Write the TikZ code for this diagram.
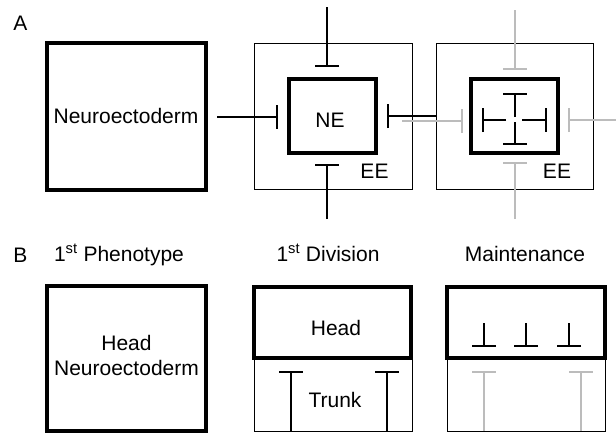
\documentclass[tikz,border=0pt]{standalone}
\usepackage{fontspec}
\setmainfont{Liberation Sans}
\usetikzlibrary{arrows.meta}
\definecolor{lgrey}{RGB}{188,188,188}
\begin{document}
\begin{tikzpicture}[x=1pt,y=-1pt,
  thickbox/.style={draw, line width=3.2pt, inner sep=0pt, outer sep=0pt},
  thinbox/.style={draw, line width=1pt, inner sep=0pt, outer sep=0pt},
  tee/.style={line width=1.3pt, -{Bar[width=24pt,line width=1.8pt]}},
  greytee/.style={tee, draw=lgrey},
  lbl/.style={font=\fontsize{21}{25}\selectfont, inner sep=0pt, anchor=base},
]
\useasboundingbox (0,0) rectangle (616,432);

% ---------------- Row A ----------------
\node[lbl] (labA) at (20.5,30) {A};

\node[thickbox, minimum width=159pt, minimum height=147pt] (neA) at (126.5,116.5) {};
\node[lbl] (neAtxt) at (126,123) {Neuroectoderm};

\node[thinbox, minimum width=158pt, minimum height=146pt] (ee1) at (333,116) {};
\node[thickbox, minimum width=87pt, minimum height=74pt] (ne1) at (332.5,116) {};
\node[lbl] (ne1txt) at (330,127) {NE};
\node[lbl] (ee1txt) at (374.5,178) {EE};

\node[thinbox, minimum width=157pt, minimum height=146pt] (ee2) at (514.5,116) {};
\node[thickbox, minimum width=87pt, minimum height=74pt] (ne2) at (514.5,116) {};
\node[lbl] (ee2txt) at (557,178) {EE};

% connector endpoints
\coordinate (c1s) at (217,117);  \coordinate (c1e) at (278,117);
\coordinate (c2s) at (327,7);    \coordinate (c2e) at (327,67);
\coordinate (c3s) at (327,219);  \coordinate (c3e) at (327,164);
\coordinate (c4s) at (436,116);  \coordinate (c4e) at (387,116);
\coordinate (g1s) at (402,121);  \coordinate (g1e) at (463,121);
\coordinate (g2s) at (515,10);   \coordinate (g2e) at (515,70);
\coordinate (g3s) at (515,219);  \coordinate (g3e) at (515,162);
\coordinate (g4s) at (616,120);  \coordinate (g4e) at (568,120);

\draw[tee] (c1s) -- (c1e);
\draw[tee] (c2s) -- (c2e);
\draw[tee] (c3s) -- (c3e);
\draw[tee] (c4s) -- (c4e);
\draw[greytee] (g1s) -- (g1e);
\draw[greytee] (g2s) -- (g2e);
\draw[greytee] (g3s) -- (g3e);
\draw[greytee] (g4s) -- (g4e);

% inner symbol of ne2
\coordinate (i1s) at (515,117); \coordinate (i1e) at (515,93);
\coordinate (i2s) at (515,122); \coordinate (i2e) at (515,145);
\coordinate (i3s) at (506,120); \coordinate (i3e) at (482,120);
\coordinate (i4s) at (522,120); \coordinate (i4e) at (547,120);
\draw[tee] (i1s) -- (i1e);
\draw[tee] (i2s) -- (i2e);
\draw[tee] (i3s) -- (i3e);
\draw[tee] (i4s) -- (i4e);

% ---------------- Row B ----------------
\node[lbl] (labB) at (20.5,262) {B};
\node[lbl] (h1) at (119,261) {1\textsuperscript{st} Phenotype};
\node[lbl] (h2) at (328,261) {1\textsuperscript{st} Division};
\node[lbl] (h3) at (525,261) {Maintenance};

\node[thickbox, minimum width=159pt, minimum height=145pt] (hn) at (126.5,358.5) {};
\node[font=\fontsize{21}{25}\selectfont, inner sep=0pt, align=center] (hntxt) at (126.5,355.3) {Head\\Neuroectoderm};

\node[thinbox, minimum width=158pt, minimum height=73pt] (trunk) at (333,394.5) {};
\node[thickbox, minimum width=157pt, minimum height=71pt] (head) at (332.5,322.5) {};
\node[lbl] (headtxt) at (336,335) {Head};
\node[lbl] (trunktxt) at (335,407) {Trunk};

\coordinate (t1s) at (291,431); \coordinate (t1e) at (291,371);
\coordinate (t2s) at (387,431); \coordinate (t2e) at (387,371);
\draw[tee] (t1s) -- (t1e);
\draw[tee] (t2s) -- (t2e);

\node[thinbox, minimum width=158pt, minimum height=73pt] (mlow) at (526,394.5) {};
\node[thickbox, minimum width=158pt, minimum height=71pt] (mhead) at (526,322.5) {};

\coordinate (m1s) at (484,323); \coordinate (m1e) at (484,347);
\coordinate (m2s) at (526,323); \coordinate (m2e) at (526,347);
\coordinate (m3s) at (569,323); \coordinate (m3e) at (569,347);
\draw[tee] (m1s) -- (m1e);
\draw[tee] (m2s) -- (m2e);
\draw[tee] (m3s) -- (m3e);

\coordinate (mg1s) at (484,431); \coordinate (mg1e) at (484,371);
\coordinate (mg2s) at (581,431); \coordinate (mg2e) at (581,371);
\draw[greytee] (mg1s) -- (mg1e);
\draw[greytee] (mg2s) -- (mg2e);
\end{tikzpicture}
\end{document}
